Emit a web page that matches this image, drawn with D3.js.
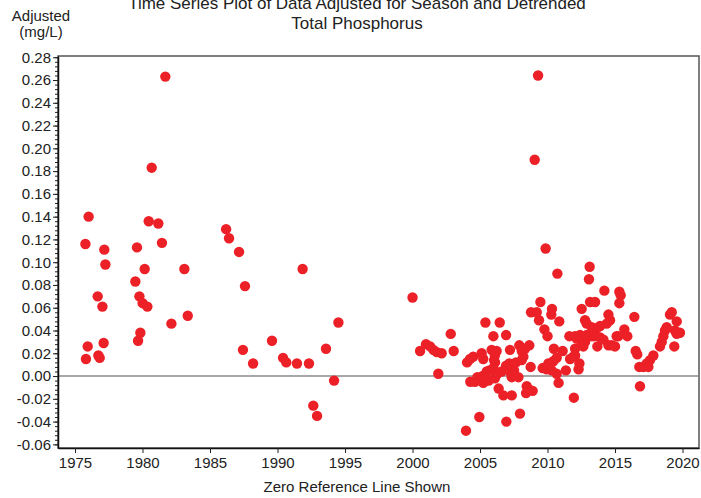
<!DOCTYPE html>
<html>
<head>
<meta charset="utf-8">
<script src="https://cdn.jsdelivr.net/npm/d3@7"></script>
<style>
  body { margin: 0; background: #fff; }
  svg { display: block; font-family: "Liberation Sans", Arial, sans-serif; }
  .axis text { font-size: 15px; fill: #222; }
</style>
</head>
<body>
<div id="chart"></div>
<script>
// decimal year, adjusted concentration (mg/L)
const earlyYears = [1975.77, 1975.81, 1975.94, 1976.01, 1976.68, 1976.73, 1976.83, 1977.03, 1977.12, 1977.17,
  1977.25, 1979.47, 1979.59, 1979.67, 1979.77, 1979.84, 1980.01, 1980.16, 1980.36, 1980.46,
  1980.68, 1981.17, 1981.44, 1981.69, 1982.14, 1983.10, 1983.35, 1986.19, 1986.41, 1987.15,
  1987.44, 1987.59, 1988.19, 1989.59, 1990.41, 1990.65, 1991.44, 1991.86, 1992.33, 1992.65,
  1992.93, 1993.59, 1994.19, 1994.51];
const earlyValues = [0.116, 0.015, 0.026, 0.140, 0.070, 0.018, 0.016, 0.061, 0.029, 0.111,
  0.098, 0.083, 0.113, 0.031, 0.070, 0.038, 0.064, 0.094, 0.061, 0.136,
  0.183, 0.134, 0.117, 0.263, 0.046, 0.094, 0.053, 0.129, 0.121, 0.109,
  0.023, 0.079, 0.011, 0.031, 0.016, 0.012, 0.011, 0.094, 0.011, -0.026,
  -0.035, 0.024, -0.004, 0.047];

const lateYears = [2000.00, 2000.56, 2001.00, 2001.30, 2001.55, 2001.80, 2002.16, 2001.91, 2002.83, 2003.05,
  2003.96, 2004.95, 2004.04, 2004.26, 2004.50, 2004.28, 2004.63, 2004.95, 2004.80, 2005.20,
  2005.50, 2005.69, 2005.37, 2005.64, 2005.12, 2005.24, 2005.40, 2006.46, 2005.99, 2006.93,
  2005.86, 2006.23, 2006.10, 2006.04, 2006.11, 2005.99, 2006.38, 2006.73, 2006.95, 2007.35,
  2007.96, 2007.22, 2006.28, 2006.60, 2006.93, 2007.17, 2007.30, 2007.52, 2007.67, 2007.35,
  2007.84, 2006.10, 2005.24, 2007.91, 2008.09, 2008.33, 2008.65, 2008.21, 2008.09, 2008.46,
  2008.65, 2008.41, 2008.90, 2008.75, 2008.78, 2009.20, 2009.47, 2009.37, 2009.77, 2010.00,
  2009.64, 2009.94, 2009.05, 2009.30, 2009.86, 2010.33, 2010.28, 2010.73, 2010.87, 2010.06,
  2010.43, 2010.68, 2010.31, 2010.68, 2010.82, 2010.47, 2011.12, 2011.36, 2011.62, 2011.95,
  2011.67, 2011.91, 2012.04, 2012.36, 2012.30, 2012.04, 2012.16, 2012.53, 2012.78, 2012.41,
  2012.04, 2012.90, 2013.27, 2012.65, 2012.53, 2012.78, 2012.90, 2013.07, 2013.12, 2013.15,
  2013.52, 2013.27, 2013.64, 2013.89, 2013.44, 2013.89, 2013.69, 2014.14, 2014.21, 2014.51,
  2014.63, 2014.38, 2014.51, 2014.76, 2015.00, 2015.12, 2015.25, 2015.32, 2015.42, 2015.32,
  2015.69, 2015.91, 2016.43, 2016.53, 2016.65, 2016.80, 2017.10, 2016.85, 2017.35, 2017.47,
  2017.59, 2017.84, 2018.33, 2018.46, 2018.58, 2018.70, 2018.83, 2019.07, 2019.20, 2019.57,
  2019.44, 2019.81, 2019.57, 2019.39];
const lateValues = [0.069, 0.022, 0.028, 0.026, 0.023, 0.021, 0.020, 0.002, 0.037, 0.022,
  -0.048, -0.036, 0.012, 0.015, 0.017, -0.005, -0.005, -0.003, -0.001, 0.000,
  0.004, 0.005, -0.004, -0.004, 0.020, 0.015, 0.047, 0.047, 0.035, 0.036,
  0.023, 0.022, 0.018, 0.014, 0.012, 0.007, -0.011, -0.017, -0.040, -0.017,
  -0.033, 0.023, 0.002, 0.004, 0.009, 0.011, 0.002, 0.005, 0.012, -0.001,
  -0.001, -0.002, -0.006, 0.027, 0.022, 0.024, 0.027, 0.017, 0.014, -0.009,
  -0.012, -0.015, -0.013, 0.008, 0.056, 0.056, 0.065, 0.049, 0.041, 0.035,
  0.007, 0.006, 0.190, 0.264, 0.112, 0.059, 0.054, 0.090, 0.048, 0.011,
  0.013, 0.016, 0.005, 0.002, -0.006, 0.024, 0.022, 0.005, 0.035, -0.019,
  0.015, 0.017, 0.018, 0.011, 0.006, 0.024, 0.033, 0.029, 0.030, 0.036,
  0.035, 0.036, 0.035, 0.026, 0.059, 0.049, 0.046, 0.085, 0.096, 0.065,
  0.065, 0.043, 0.042, 0.044, 0.035, 0.034, 0.026, 0.032, 0.075, 0.054,
  0.049, 0.046, 0.027, 0.027, 0.026, 0.035, 0.035, 0.074, 0.071, 0.064,
  0.041, 0.035, 0.052, 0.022, 0.019, 0.008, 0.008, -0.009, 0.011, 0.008,
  0.014, 0.018, 0.026, 0.030, 0.035, 0.040, 0.043, 0.054, 0.056, 0.048,
  0.040, 0.038, 0.037, 0.026];

const xTicks = [1975, 1980, 1985, 1990, 1995, 2000, 2005, 2010, 2015, 2020];
const yTicks = [-0.06, -0.04, -0.02, 0.00, 0.02, 0.04, 0.06, 0.08, 0.10, 0.12, 0.14,
  0.16, 0.18, 0.20, 0.22, 0.24, 0.26, 0.28];

const points = earlyYears.map((t, i) => ({ t: t, v: earlyValues[i] }))
  .concat(lateYears.map((t, i) => ({ t: t, v: lateValues[i] })));

const W = 701, H = 498;
const plot = { left: 58, right: 699, top: 56, bottom: 448 };

const svg = d3.select("#chart").append("svg")
  .attr("width", W)
  .attr("height", H);

const x = d3.scaleLinear().domain([1973.74, 2021.22]).range([plot.left, plot.right]);
const y = d3.scaleLinear().domain([-0.0632, 0.2811]).range([plot.bottom, plot.top]);

// frame
svg.append("rect")
  .attr("x", plot.left).attr("y", plot.top)
  .attr("width", plot.right - plot.left).attr("height", plot.bottom - plot.top)
  .attr("fill", "none")
  .attr("stroke", "#555")
  .attr("stroke-width", 1.5);

// zero reference line
svg.append("line")
  .attr("x1", plot.left).attr("x2", plot.right)
  .attr("y1", y(0)).attr("y2", y(0))
  .attr("stroke", "#8a8a8a")
  .attr("stroke-width", 1.5);

// minor y ticks
const minor = d3.range(-0.06, 0.2801, 0.004);
svg.append("g")
  .attr("transform", `translate(${plot.left},0)`)
  .call(d3.axisLeft(y).tickValues(minor).tickSize(3).tickFormat(""))
  .call(g => g.select(".domain").remove())
  .selectAll("line").attr("stroke", "#222");

const fmt = d => (Math.round(d * 100) / 100).toFixed(2);

const yAxis = svg.append("g")
  .attr("class", "axis")
  .attr("transform", `translate(${plot.left},0)`)
  .call(d3.axisLeft(y).tickValues(yTicks).tickSize(5).tickSizeOuter(0).tickPadding(2).tickFormat(fmt));
yAxis.select(".domain").attr("stroke", "#111").attr("stroke-width", 1.5);
yAxis.selectAll("line").attr("stroke", "#222");
yAxis.attr("font-family", null).attr("font-size", null);

const xAxis = svg.append("g")
  .attr("class", "axis")
  .attr("transform", `translate(0,${plot.bottom})`)
  .call(d3.axisBottom(x).tickValues(xTicks).tickSize(5).tickSizeOuter(0).tickPadding(4).tickFormat(d3.format("d")));
xAxis.select(".domain").attr("stroke", "#111").attr("stroke-width", 1.5);
xAxis.selectAll("line").attr("stroke", "#222");
xAxis.attr("font-family", null).attr("font-size", null);

// points
svg.append("g")
  .selectAll("circle")
  .data(points)
  .enter()
  .append("circle")
  .attr("cx", d => x(d.t))
  .attr("cy", d => y(d.v))
  .attr("r", 5.2)
  .attr("fill", "#ec2027");

// titles
const title = svg.append("text")
  .attr("text-anchor", "middle")
  .attr("font-size", 17)
  .attr("fill", "#222");
title.append("tspan").attr("x", 357).attr("y", 9)
  .text("Time Series Plot of Data Adjusted for Season and Detrended");
title.append("tspan").attr("x", 357).attr("y", 29)
  .text("Total Phosphorus");

const ylab = svg.append("text")
  .attr("text-anchor", "middle")
  .attr("font-size", 15)
  .attr("fill", "#222");
ylab.append("tspan").attr("x", 41).attr("y", 21).text("Adjusted");
ylab.append("tspan").attr("x", 41).attr("y", 37).text("(mg/L)");

svg.append("text")
  .attr("x", 357)
  .attr("y", 492)
  .attr("text-anchor", "middle")
  .attr("font-size", 15)
  .attr("fill", "#222")
  .text("Zero Reference Line Shown");
</script>
</body>
</html>
